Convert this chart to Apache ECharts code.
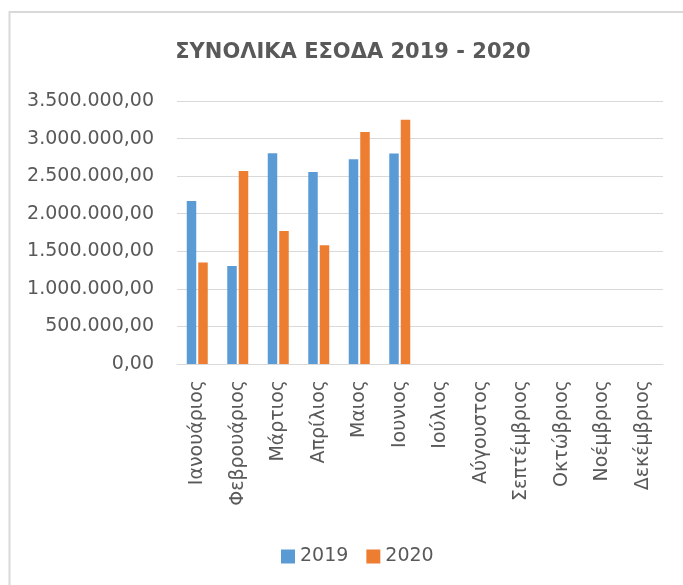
<!DOCTYPE html>
<html>
<head>
<meta charset="utf-8">
<script src="https://cdn.jsdelivr.net/npm/echarts@6/dist/echarts.min.js"></script>
<style>
html,body{margin:0;padding:0;background:#fff;}
#chart{width:683px;height:585px;}
</style>
</head>
<body>
<div id="chart"></div>
<script>
var titleText = 'ΣΥΝΟΛΙΚΑ ΕΣΟΔΑ 2019 - 2020';
var months = ['Ιανουάριος','Φεβρουάριος','Μάρτιος','Απρίλιος','Μαιος','Ιουνιος','Ιούλιος','Αύγουστος','Σεπτέμβριος','Οκτώβριος','Νοέμβριος','Δεκέμβριος'];
var seriesNames = ['2019','2020'];
var values2019 = [2170000, 1303000, 2805000, 2556000, 2725000, 2800000, null, null, null, null, null, null];
var values2020 = [1352000, 2569000, 1769000, 1579000, 3089000, 3249000, null, null, null, null, null, null];
var colors = ['#5B9BD5', '#ED7D31'];

function fmt(v) {
  var s = Math.round(v).toString().replace(/\B(?=(\d{3})+(?!\d))/g, '.');
  return s + ',00';
}

var chart = echarts.init(document.getElementById('chart'), null, {renderer: 'canvas'});
var font = 'DejaVu Sans';
chart.setOption({
  animation: false,
  backgroundColor: '#fff',
  graphic: [{
    type: 'rect',
    shape: {x: 9.5, y: 12, width: 720, height: 620},
    style: {fill: 'none', stroke: '#D9D9D9', lineWidth: 2},
    silent: true
  }],
  title: {
    text: titleText,
    left: 348,
    textAlign: 'center',
    top: 37,
    textStyle: {fontFamily: font, fontWeight: 'bold', fontSize: 21, color: '#595959'}
  },
  legend: {
    data: seriesNames,
    left: 276,
    top: 542,
    itemWidth: 14,
    itemHeight: 14,
    itemGap: 18,
    icon: 'rect',
    textStyle: {fontFamily: font, fontSize: 19, color: '#595959'}
  },
  grid: {left: 177, right: 20, top: 101, bottom: 221, containLabel: false},
  xAxis: {
    type: 'category',
    data: months,
    axisLine: {show: true, lineStyle: {color: '#D9D9D9', width: 1}},
    axisTick: {show: false},
    axisLabel: {rotate: 90, margin: 16, interval: 0, fontFamily: font, fontSize: 19, color: '#595959'}
  },
  yAxis: {
    type: 'value',
    min: 0,
    max: 3500000,
    interval: 500000,
    axisLine: {show: false},
    axisTick: {show: false},
    splitLine: {lineStyle: {color: '#D9D9D9', width: 1}},
    axisLabel: {margin: 23, fontFamily: font, fontSize: 19, color: '#595959', formatter: fmt}
  },
  series: [
    {name: seriesNames[0], type: 'bar', data: values2019, barWidth: 9.5, barGap: '21%', itemStyle: {color: colors[0]}},
    {name: seriesNames[1], type: 'bar', data: values2020, barWidth: 9.5, barGap: '21%', itemStyle: {color: colors[1]}}
  ]
});
</script>
</body>
</html>
